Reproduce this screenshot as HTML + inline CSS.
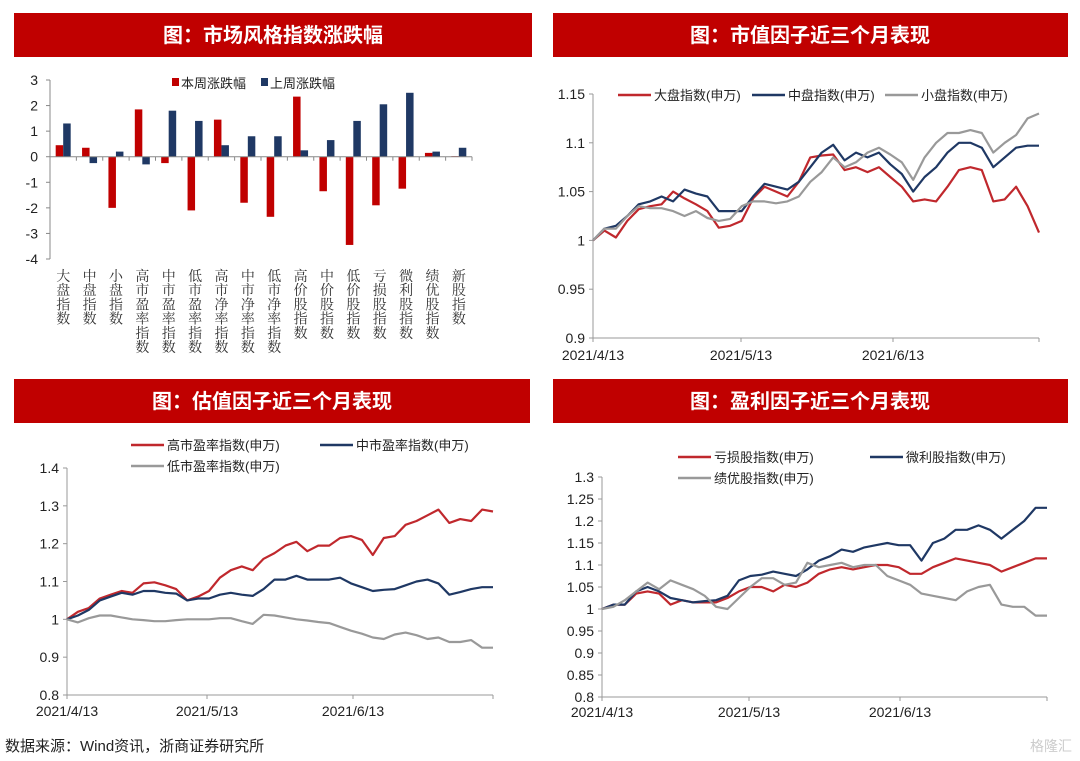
<!DOCTYPE html>
<html><head><meta charset="utf-8">
<style>
html,body{margin:0;padding:0;background:#fff;width:1080px;height:761px;overflow:hidden}
svg{display:block;font-family:"Liberation Sans","Noto Sans CJK SC",sans-serif}
</style></head>
<body>
<svg id="root" width="1080" height="761" viewBox="0 0 1080 761">
<g>
<rect x="14" y="13" width="518" height="44" fill="#c00000"/>
<text x="273" y="42" fill="#fff" font-size="20" font-weight="bold" text-anchor="middle">图：市场风格指数涨跌幅</text>
</g>
<g>
<rect x="553" y="13" width="515" height="44" fill="#c00000"/>
<text x="810" y="42" fill="#fff" font-size="20" font-weight="bold" text-anchor="middle">图：市值因子近三个月表现</text>
</g>
<g>
<rect x="14" y="379" width="516" height="44" fill="#c00000"/>
<text x="272" y="408" fill="#fff" font-size="20" font-weight="bold" text-anchor="middle">图：估值因子近三个月表现</text>
</g>
<g>
<rect x="553" y="379" width="515" height="44" fill="#c00000"/>
<text x="810" y="408" fill="#fff" font-size="20" font-weight="bold" text-anchor="middle">图：盈利因子近三个月表现</text>
</g>
<text x="5" y="751" font-size="15" fill="#222">数据来源：Wind资讯，浙商证券研究所</text>
<text x="1072" y="751" font-size="14" fill="#ccc" text-anchor="end">格隆汇</text>
</svg>
<script>
// ---- Bar chart data ----
const barCategories = ["大盘指数","中盘指数","小盘指数","高市盈率指数","中市盈率指数","低市盈率指数","高市净率指数","中市净率指数","低市净率指数","高价股指数","中价股指数","低价股指数","亏损股指数","微利股指数","绩优股指数","新股指数"];
const thisWeek = [0.45,0.35,-2.0,1.85,-0.25,-2.1,1.45,-1.8,-2.35,2.35,-1.35,-3.45,-1.9,-1.25,0.15,0.02];
const lastWeek = [1.3,-0.25,0.2,-0.3,1.8,1.4,0.45,0.8,0.8,0.25,0.65,1.4,2.05,2.5,0.2,0.35];
const barTicks = [3,2,1,0,-1,-2,-3,-4];

// ---- Size factor ----
const dateTicks = ["2021/4/13","2021/5/13","2021/6/13"];
const sizeLarge = [1.00,1.01,1.003,1.02,1.032,1.035,1.037,1.05,1.043,1.037,1.03,1.013,1.015,1.02,1.043,1.055,1.05,1.045,1.06,1.085,1.087,1.088,1.072,1.075,1.07,1.075,1.065,1.055,1.04,1.042,1.04,1.055,1.072,1.075,1.072,1.04,1.042,1.055,1.035,1.008];
const sizeMid = [1.00,1.012,1.015,1.025,1.037,1.04,1.045,1.04,1.052,1.048,1.045,1.03,1.03,1.03,1.045,1.058,1.055,1.052,1.06,1.075,1.09,1.098,1.082,1.09,1.085,1.09,1.078,1.068,1.05,1.065,1.075,1.09,1.1,1.1,1.095,1.075,1.085,1.095,1.097,1.097];
const sizeSmall = [1.00,1.012,1.012,1.025,1.035,1.033,1.033,1.03,1.025,1.03,1.023,1.02,1.022,1.035,1.04,1.04,1.038,1.04,1.045,1.06,1.07,1.085,1.075,1.08,1.09,1.095,1.088,1.08,1.062,1.085,1.1,1.11,1.11,1.113,1.11,1.09,1.1,1.108,1.125,1.13];
const sizeTicks = [1.15,1.1,1.05,1,0.95,0.9];

// ---- Valuation factor ----
const peHigh = [1.0,1.02,1.03,1.055,1.065,1.075,1.07,1.095,1.098,1.09,1.08,1.05,1.06,1.075,1.11,1.13,1.14,1.13,1.16,1.175,1.195,1.205,1.18,1.195,1.195,1.215,1.22,1.21,1.17,1.215,1.22,1.25,1.26,1.275,1.29,1.255,1.265,1.26,1.29,1.285];
const peMid = [1.0,1.01,1.025,1.05,1.06,1.07,1.065,1.075,1.075,1.07,1.068,1.05,1.055,1.055,1.065,1.07,1.065,1.062,1.08,1.105,1.105,1.115,1.105,1.105,1.105,1.11,1.095,1.085,1.075,1.078,1.08,1.09,1.1,1.105,1.095,1.065,1.072,1.08,1.085,1.085];
const peLow = [1.0,0.992,1.003,1.01,1.01,1.005,1.0,0.998,0.995,0.995,0.998,1.0,1.0,1.0,1.003,1.003,0.995,0.988,1.012,1.01,1.005,1.0,0.997,0.993,0.99,0.98,0.97,0.962,0.952,0.948,0.96,0.965,0.958,0.948,0.952,0.94,0.94,0.945,0.925,0.925];
const valueTicks = [1.4,1.3,1.2,1.1,1,0.9,0.8];

// ---- Profit factor ----
const lossStock = [1.0,1.01,1.01,1.035,1.04,1.035,1.01,1.02,1.015,1.015,1.015,1.025,1.04,1.05,1.05,1.04,1.055,1.05,1.06,1.08,1.09,1.095,1.09,1.095,1.1,1.1,1.095,1.08,1.08,1.095,1.105,1.115,1.11,1.105,1.1,1.085,1.095,1.105,1.115,1.115];
const microProfit = [1.0,1.01,1.01,1.04,1.05,1.04,1.025,1.02,1.015,1.018,1.02,1.03,1.065,1.075,1.078,1.085,1.08,1.075,1.09,1.11,1.12,1.135,1.13,1.14,1.145,1.15,1.145,1.145,1.11,1.15,1.16,1.18,1.18,1.19,1.18,1.16,1.18,1.2,1.23,1.23];
const bluechip = [1.0,1.005,1.02,1.04,1.06,1.045,1.065,1.055,1.045,1.03,1.005,1.0,1.025,1.05,1.07,1.07,1.055,1.06,1.105,1.095,1.1,1.105,1.095,1.1,1.1,1.075,1.065,1.055,1.035,1.03,1.025,1.02,1.04,1.05,1.055,1.01,1.005,1.005,0.985,0.985];
const profitTicks = [1.3,1.25,1.2,1.15,1.1,1.05,1,0.95,0.9,0.85,0.8];

const NS="http://www.w3.org/2000/svg";
const root=document.getElementById('root');
function mk(tag,attrs,parent){const e=document.createElementNS(NS,tag);for(const k in attrs)e.setAttribute(k,attrs[k]);(parent||root).appendChild(e);return e;}
function txt(s,attrs,parent){const e=mk('text',attrs,parent);e.textContent=s;return e;}

// ===== Bar chart =====
(function(){
  const g=mk('g',{});
  
  
  const x0=50,x1=472,yTop=80,yBot=259,vMax=3,vMin=-4;
  const y=v=>yTop+(vMax-v)/(vMax-vMin)*(yBot-yTop);
  const cw=(x1-x0)/barCategories.length;
  const cx=i=>x0+cw*(i+0.5);
  const ax=mk('line',{x1:x0,y1:yTop,x2:x0,y2:yBot,stroke:'#888','stroke-width':1},g);
  
  
  barTicks.forEach(t=>{
    const tl=txt(String(t),{x:38,y:y(t)+5,'font-size':14,'text-anchor':'end',fill:'#222'},g);
    
    
    mk('line',{x1:x0-4,y1:y(t),x2:x0,y2:y(t),stroke:'#888'},g);
  });
  const bw=7.5;
  barCategories.forEach((c,i)=>{
    const v1=thisWeek[i],v2=lastWeek[i];
    const r=mk('rect',{x:cx(i)-bw,y:Math.min(y(v1),y(0)),width:bw,height:Math.abs(y(v1)-y(0)),fill:'#c00000'},g);
    
    
    const b=mk('rect',{x:cx(i),y:Math.min(y(v2),y(0)),width:bw,height:Math.abs(y(v2)-y(0)),fill:'#1f3864'},g);
    
    
    const lab=mk('text',{x:cx(i),'font-size':14,'text-anchor':'middle',fill:'#333','font-family':'"Noto Serif CJK SC",serif'},g);
    
    
    [...c].forEach((ch,k)=>{const ts=mk('tspan',{x:cx(i),y:281+k*14.2},lab);ts.textContent=ch;});
    mk('line',{x1:x0+cw*(i+1),y1:y(0),x2:x0+cw*(i+1),y2:y(0)+4,stroke:'#888'},g);
  });
  const xa=mk('line',{x1:x0,y1:y(0),x2:x1,y2:y(0),stroke:'#888'},g);
  
  
  const l1=mk('rect',{x:172,y:78,width:7,height:8,fill:'#c00000'},g);
  
  
  const lt1=txt('本周涨跌幅',{x:181,y:88,'font-size':13,fill:'#222'},g);
  
  
  const l2=mk('rect',{x:261,y:78,width:7,height:8,fill:'#1f3864'},g);
  
  
  const lt2=txt('上周涨跌幅',{x:270,y:88,'font-size':13,fill:'#222'},g);
  
  
})();

// ===== Line charts =====
function lineChart(cfg){
  const g=mk('g',{});
  
  
  const {x0,x1,yTop,yBot,vMax,vMin}=cfg;
  const y=v=>yTop+(vMax-v)/(vMax-vMin)*(yBot-yTop);
  const n=cfg.series[0].data.length;
  const x=i=>x0+(x1-x0)*i/(n-1);
  const ya=mk('line',{x1:x0,y1:yTop,x2:x0,y2:yBot,stroke:'#999'},g);
  
  
  const xa=mk('line',{x1:x0,y1:yBot,x2:x1,y2:yBot,stroke:'#999'},g);
  
  
  cfg.ticks.forEach(t=>{
    const tl=txt(String(t),{x:x0-8,y:y(t)+5,'font-size':14,'text-anchor':'end',fill:'#222'},g);
    
    
    mk('line',{x1:x0-4,y1:y(t),x2:x0,y2:y(t),stroke:'#999'},g);
  });
  dateTicks.forEach((d,k)=>{
    const tx=cfg.dateX[k];
    mk('line',{x1:tx,y1:yBot,x2:tx,y2:yBot+4,stroke:'#999'},g);
    const dl=txt(d,{x:tx,y:yBot+cfg.dateDy,'font-size':14,'text-anchor':'middle',fill:'#222'},g);
    
    
  });
  mk('line',{x1:x1,y1:yBot,x2:x1,y2:yBot+4,stroke:'#999'},g);
  cfg.series.forEach(s=>{
    const p=mk('polyline',{points:s.data.map((v,i)=>x(i).toFixed(1)+','+y(v).toFixed(1)).join(' '),fill:'none',stroke:s.color,'stroke-width':2.2,'stroke-linejoin':'round'},g);
    
    
    mk('line',{x1:s.lx,y1:s.ly,x2:s.lx+33,y2:s.ly,stroke:s.color,'stroke-width':2.5},g);
    const lt=txt(s.label,{x:s.lx+36,y:s.ly+5,'font-size':13,fill:'#222'},g);
    
    
  });
}
lineChart({name:'size-factor-chart',x0:593,x1:1039,yTop:94,yBot:338,vMax:1.15,vMin:0.9,ticks:sizeTicks,dateX:[593,741,893],dateDy:22,
  series:[{id:'line-large-cap',label:'大盘指数(申万)',color:'#c0282d',data:sizeLarge,lx:618,ly:95},
          {id:'line-mid-cap',label:'中盘指数(申万)',color:'#1f3864',data:sizeMid,lx:752,ly:95},
          {id:'line-small-cap',label:'小盘指数(申万)',color:'#999999',data:sizeSmall,lx:885,ly:95}]});
lineChart({name:'valuation-factor-chart',x0:67,x1:493,yTop:468,yBot:695,vMax:1.4,vMin:0.8,ticks:valueTicks,dateX:[67,207,353],dateDy:21,
  series:[{id:'line-high-pe',label:'高市盈率指数(申万)',color:'#c0282d',data:peHigh,lx:131,ly:445},
          {id:'line-mid-pe',label:'中市盈率指数(申万)',color:'#1f3864',data:peMid,lx:320,ly:445},
          {id:'line-low-pe',label:'低市盈率指数(申万)',color:'#999999',data:peLow,lx:131,ly:466}]});
lineChart({name:'profit-factor-chart',x0:602,x1:1047,yTop:477,yBot:697,vMax:1.3,vMin:0.8,ticks:profitTicks,dateX:[602,749,900],dateDy:20,
  series:[{id:'line-loss-stock',label:'亏损股指数(申万)',color:'#c0282d',data:lossStock,lx:678,ly:457},
          {id:'line-micro-profit',label:'微利股指数(申万)',color:'#1f3864',data:microProfit,lx:870,ly:457},
          {id:'line-bluechip',label:'绩优股指数(申万)',color:'#999999',data:bluechip,lx:678,ly:478}]});
</script>
</body></html>
